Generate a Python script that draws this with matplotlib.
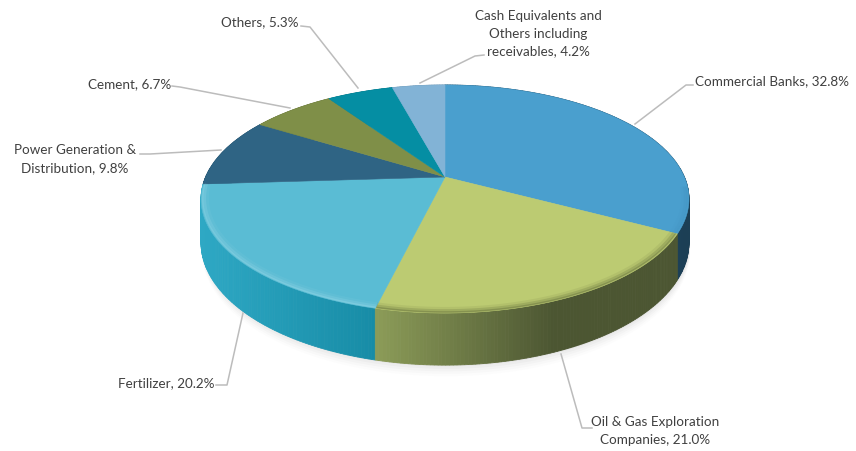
#! /usr/bin/python3
"""Tilted 3D pie of portfolio sectors, drawn with a perspective disk."""

import numpy as np
import matplotlib
matplotlib.use("Agg")
import matplotlib.pyplot as plt
from matplotlib.colors import to_rgb

categories = ["Commercial Banks", "Oil & Gas Exploration\nCompanies", "Fertilizer",
              "Power Generation &\nDistribution", "Cement", "Others",
              "Cash Equivalents and\nOthers including\nreceivables"]
values = [32.8, 21.0, 20.2, 9.8, 6.7, 5.3, 4.2]
top_colors = ["#4a9fce", "#bccb72", "#5abcd4", "#2f6484", "#7f8f48", "#058ea3", "#82b3d6"]
# wall colours from the left end of the visible wall to the right end
wall_left = ["#1f4f6a", "#8c9c58", "#2ea8c4", "#245068", "#5f6c36", "#046c7c", "#6a92ae"]
wall_right = ["#1c3f55", "#4c5632", "#178ca6", "#245068", "#5f6c36", "#046c7c", "#6a92ae"]
rim_colors = ["#3d8cb8", "#525c30", "#a6e0ec", "#2f6484", "#7f8f48", "#058ea3", "#82b3d6"]
rim_strength = [0.5, 0.8, 0.7]
wall_order = [6, 5, 4, 3, 0, 2, 1]

label_xy = [(695, 81), (655, 431), (215, 383), (75, 159), (171, 84), (299, 22), (538, 34)]
label_ha = ["left", "center", "right", "center", "right", "right", "center"]
leaders = [[(635, 124), (686, 85), (693, 85)],
           [(561, 354), (582, 428), (592, 428)],
           [(243, 313), (227, 385), (216, 385)],
           [(221, 150), (150, 154), (140, 154)],
           [(290, 108), (180, 87), (172, 86)],
           [(358, 88), (310, 27), (301, 26)],
           [(420, 83), (475, 56), (484, 55)]]

# perspective disk
CX, CY = 445, 177
A, B, K = 239.4, 109.8, 0.193
DEPTH = 42


def disk(theta, r=1.0, drop=0.0):
  """Screen position of a disk point, theta clockwise from the top."""
  x = r * np.sin(theta)
  y = r * np.cos(theta)
  w = 1 + K * y
  return CX + A * x / w, CY - B * y / w + drop / w


fig = plt.figure(figsize=(8.56, 4.51), dpi=100)
ax = fig.add_axes([0, 0, 1, 1])
ax.set_xlim(0, 856)
ax.set_ylim(451, 0)
ax.axis("off")
plt.rcParams["font.family"] = ["Lato", "DejaVu Sans"]

edges = 2 * np.pi * np.concatenate([[0], np.cumsum(values)]) / np.sum(values)
circle = np.linspace(0, 2 * np.pi, 361)

# soft shadow under the pie
for grow, alpha in zip([9, 7, 5, 3, 1], [0.02, 0.03, 0.04, 0.05, 0.07]):
  sx, sy = disk(circle, drop=DEPTH + grow)
  ax.fill(sx + 1, sy, color="#808080", alpha=alpha, lw=0, zorder=1)

# side wall in thin strips so it can carry a gradient, back slices first
for i in wall_order:
  thetas = np.linspace(edges[i], edges[i + 1], max(int(values[i] * 5), 4))
  x0, y0 = disk(thetas)
  x1, y1 = disk(thetas, drop=DEPTH)
  left, right = np.array(to_rgb(wall_left[i])), np.array(to_rgb(wall_right[i]))
  span = x0.max() - x0.min()
  for j in range(len(thetas) - 1):
    t = (0.5 * (x0[j] + x0[j + 1]) - x0.min()) / span
    # green wall drops to its dark tone early, then stays there
    if i == 1:
      t = min(1.0, t * 1.7)
    col = left + (right - left) * t
    ax.fill([x0[j], x0[j + 1], x1[j + 1], x1[j]], [y0[j], y0[j + 1], y1[j + 1], y1[j]],
            color=col, lw=0.6, zorder=2)

# top face
for i in range(len(values)):
  thetas = np.linspace(edges[i], edges[i + 1], 120)
  x0, y0 = disk(thetas)
  ax.fill(np.r_[CX, x0], np.r_[CY, y0], color=top_colors[i], lw=0.4, zorder=3)

# bevel along the front rim of the top face
for i in range(3):
  start = max(edges[i], np.radians(95))
  thetas = np.linspace(start, edges[i + 1], 120)
  for r, lw, alpha in [(0.98, 4.0, 0.12), (0.987, 2.5, 0.25), (0.994, 1.2, 0.4)]:
    x0, y0 = disk(thetas, r=r)
    ax.plot(x0, y0, color=rim_colors[i], lw=lw, alpha=alpha * rim_strength[i], zorder=4,
            solid_capstyle="butt")

# leaders and labels
for i, pts in enumerate(leaders):
  xs, ys = zip(*pts)
  ax.plot(xs, ys, color="#bcbcbc", lw=1.1, zorder=5)
  ax.text(label_xy[i][0], label_xy[i][1], "%s, %.1f%%" % (categories[i], values[i]),
          ha=label_ha[i], va="center", fontsize=9.75, color="#404040",
          linespacing=1.55, zorder=6)

fig.savefig("out.png", dpi=100)
